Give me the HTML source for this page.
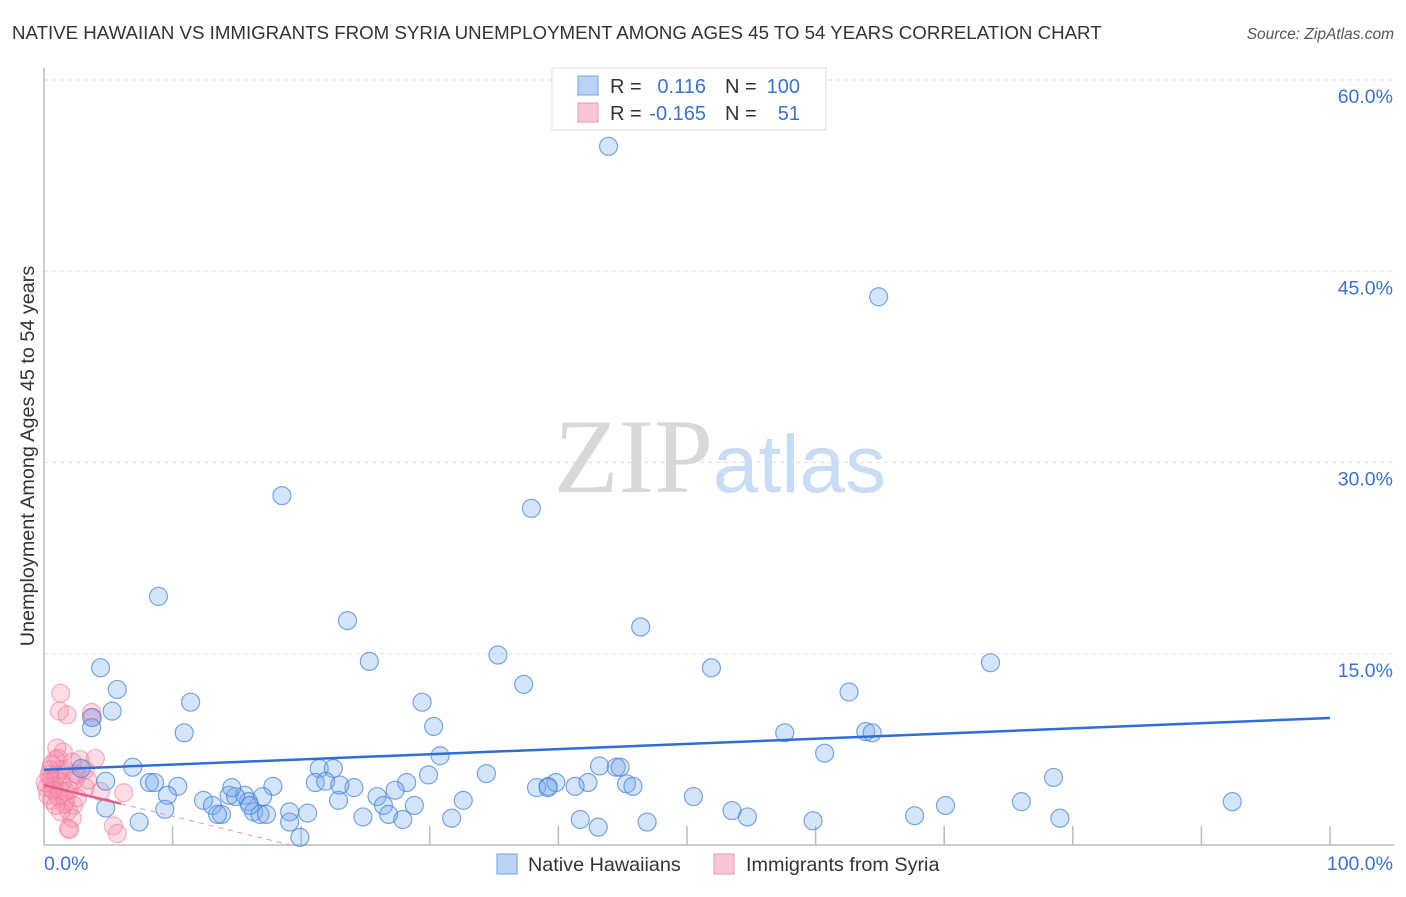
<!DOCTYPE html>
<html><head><meta charset="utf-8"><style>
body{margin:0;background:#fff;font-family:"Liberation Sans",sans-serif;}
svg text{font-family:"Liberation Sans",sans-serif;}
</style></head><body>
<svg id="chart" width="1406" height="892" viewBox="0 0 1406 892" xmlns="http://www.w3.org/2000/svg">
<text x="12" y="39" font-size="18.7" fill="#333">NATIVE HAWAIIAN VS IMMIGRANTS FROM SYRIA UNEMPLOYMENT AMONG AGES 45 TO 54 YEARS CORRELATION CHART</text>
<text x="1394" y="39" font-size="15.5" fill="#555" font-style="italic" text-anchor="end">Source: ZipAtlas.com</text>
<g id="grid"></g>
<text x="720" y="492" text-anchor="middle" font-size="106"><tspan font-family="Liberation Serif" fill="#d8d8d8">ZIP</tspan><tspan fill="#c9dcf3" font-size="82">atlas</tspan></text>
<text transform="translate(34,456) rotate(-90)" text-anchor="middle" font-size="19.8" fill="#333">Unemployment Among Ages 45 to 54 years</text>
<g id="pts"></g>
<g id="trends"></g>
<g>
<rect x="552" y="68" width="274" height="62" fill="#fff" stroke="#ddd"/>
<rect x="578" y="76" width="20" height="19" fill="#b8d3f5" stroke="#6ea0e0"/>
<rect x="578" y="103" width="20" height="19" fill="#f8c6d5" stroke="#ee94ae"/>
<text x="610" y="93" font-size="20" fill="#333">R =</text>
<text x="706" y="93" font-size="20" fill="#3a72d0" text-anchor="end">0.116</text>
<text x="725" y="93" font-size="20" fill="#333">N =</text>
<text x="800" y="93" font-size="20" fill="#3a72d0" text-anchor="end">100</text>
<text x="610" y="120" font-size="20" fill="#333">R =</text>
<text x="706" y="120" font-size="20" fill="#3a72d0" text-anchor="end">-0.165</text>
<text x="725" y="120" font-size="20" fill="#333">N =</text>
<text x="800" y="120" font-size="20" fill="#3a72d0" text-anchor="end">51</text>
</g>
<g>
<rect x="497" y="854" width="20" height="20" fill="#b8d3f5" stroke="#6ea0e0"/>
<text x="528" y="871" font-size="19.8" fill="#333">Native Hawaiians</text>
<rect x="714" y="854" width="20" height="20" fill="#f8c6d5" stroke="#ee94ae"/>
<text x="746" y="871" font-size="19.8" fill="#333">Immigrants from Syria</text>
</g>
</svg>
<script>
const yTicks=[15,30,45,60];
const yTickLabels=["15.0%","30.0%","45.0%","60.0%"];
const xTickLabels=["0.0%","100.0%"];
const blueX=[43.9,64.9,18.5,37.9,8.9,23.6,46.4,4.4,25.3,35.3,51.9,73.6,5.7,37.3,62.6,11.4,5.3,29.4,3.7,3.7,10.9,30.3,57.6,63.9,64.4,30.8,60.7,6.9,21.4,22.5,2.9,8.2,8.6,10.4,21.1,21.9,29.9,34.4,78.5,4.8,17.8,24.1,28.2,38.3,39.2,39.8,43.2,44.5,44.8,45.3,45.8,9.6,12.4,14.4,15.6,15.9,17.0,22.9,25.9,27.3,32.6,42.3,50.5,9.4,13.1,13.8,13.5,16.3,16.8,17.3,19.1,20.5,26.4,28.8,53.5,70.1,76.0,92.4,7.4,4.8,19.1,19.9,24.8,26.8,27.9,31.7,41.7,43.1,46.9,54.7,59.8,67.7,79.0,23.0,41.3,14.9,14.6,16.0,39.2];
const blueY=[54.8,43.0,27.4,26.4,19.5,17.6,17.1,13.9,14.4,14.9,13.9,14.3,12.2,12.6,12.0,11.2,10.5,11.2,10.0,9.2,8.8,9.3,8.8,8.9,8.8,7.0,7.2,6.1,6.0,6.0,6.0,4.9,4.9,4.6,4.9,5.0,5.5,5.6,5.3,5.0,4.6,4.5,4.9,4.5,4.6,4.9,6.2,6.1,6.1,4.8,4.6,3.9,3.5,3.9,3.9,3.4,3.8,3.5,3.8,4.3,3.5,4.9,3.8,2.8,3.1,2.4,2.4,2.6,2.4,2.4,2.6,2.5,3.1,3.1,2.7,3.1,3.4,3.4,1.8,2.9,1.8,0.6,2.2,2.4,2.0,2.1,2.0,1.4,1.8,2.2,1.9,2.3,2.1,4.7,4.6,3.8,4.5,3.1,4.5];
const pinkX=[1.3,1.2,1.8,3.7,3.8,1.0,1.5,0.9,1.6,1.0,0.5,0.8,1.2,0.3,2.0,2.8,4.0,2.4,3.2,0.6,1.7,2.3,1.9,2.2,1.9,2.0,5.4,5.7,6.2,1.2,0.5,0.9,1.4,0.2,1.1,1.6,2.6,0.4,0.6,1.1,2.4,3.2,0.1,0.7,1.7,0.9,1.3,2.6,3.4,4.4,2.2];
const pinkY=[11.9,10.5,10.2,10.4,10.0,7.6,7.3,6.7,5.9,5.5,5.1,4.7,4.3,3.9,4.3,6.7,6.8,5.1,4.5,3.5,3.5,3.1,2.7,2.1,1.3,1.2,1.5,0.9,4.1,5.9,5.9,5.3,4.9,4.5,3.8,3.2,3.7,5.5,6.3,6.8,5.6,5.9,4.9,4.3,4.2,3.1,2.6,5.5,5.1,4.2,6.5];
const blueTrend=[5.9,9.96];
const pinkTrend=[4.7,-0.245];
const pinkSolidEnd=6;

const X0=44,X1=1330,YB=845,PX_PER=12.75;
const sx=v=>X0+(X1-X0)*v/100;
const sy=v=>YB-v*PX_PER;
const NS="http://www.w3.org/2000/svg";
function mk(tag,attrs,parent){const e=document.createElementNS(NS,tag);for(const k in attrs)e.setAttribute(k,attrs[k]);parent.appendChild(e);return e;}
const grid=document.getElementById('grid');
yTicks.forEach((t,i)=>{
  const l=mk('line',{x1:X0,x2:1394,y1:sy(t),y2:sy(t),stroke:'#ddd','stroke-dasharray':'4,4'},grid);
  
  
  const tx=mk('text',{x:1393,y:sy(t)+23,'font-size':19.5,fill:'#3a72d0','text-anchor':'end'},grid);
  tx.textContent=yTickLabels[i];
  
  
});
const ax=mk('line',{x1:X0,x2:1394,y1:YB,y2:YB,stroke:'#bbb','stroke-width':1.5},grid);


const ay=mk('line',{x1:X0,x2:X0,y1:68,y2:YB,stroke:'#bbb','stroke-width':1.5},grid);


for(let i=1;i<=10;i++){
  const tk=mk('line',{x1:sx(i*10),x2:sx(i*10),y1:YB,y2:YB-19,stroke:'#bbb','stroke-width':1.5},grid);
  
  
}
const xl0=mk('text',{x:X0,y:870,'font-size':19.5,fill:'#3a72d0'},grid);xl0.textContent=xTickLabels[0];


const xl1=mk('text',{x:1393,y:870,'font-size':19.5,fill:'#3a72d0','text-anchor':'end'},grid);xl1.textContent=xTickLabels[1];



const pts=document.getElementById('pts');
pinkX.forEach((x,i)=>{
  const c=mk('circle',{cx:sx(x),cy:sy(pinkY[i]),r:9,fill:'rgba(244,143,172,0.3)',stroke:'rgba(236,120,155,0.55)','stroke-width':1.2},pts);
  
  
});
blueX.forEach((x,i)=>{
  const c=mk('circle',{cx:sx(x),cy:sy(blueY[i]),r:9,fill:'rgba(120,170,235,0.32)',stroke:'rgba(70,130,215,0.7)','stroke-width':1.2},pts);
  
  
});
const tr=document.getElementById('trends');
const bt=mk('line',{x1:sx(0),y1:sy(blueTrend[0]),x2:sx(100),y2:sy(blueTrend[1]),stroke:'#2d6fd6','stroke-width':2.5},tr);


const pz=-pinkTrend[0]/pinkTrend[1];
const pd=mk('line',{x1:sx(pinkSolidEnd),y1:sy(pinkTrend[0]+pinkTrend[1]*pinkSolidEnd),x2:sx(pz),y2:sy(0),stroke:'#ee94ae','stroke-width':1,'stroke-dasharray':'5,5'},tr);


const ps=mk('line',{x1:sx(0),y1:sy(pinkTrend[0]),x2:sx(pinkSolidEnd),y2:sy(pinkTrend[0]+pinkTrend[1]*pinkSolidEnd),stroke:'#e35d88','stroke-width':2.5},tr);


</script>
</body></html>
